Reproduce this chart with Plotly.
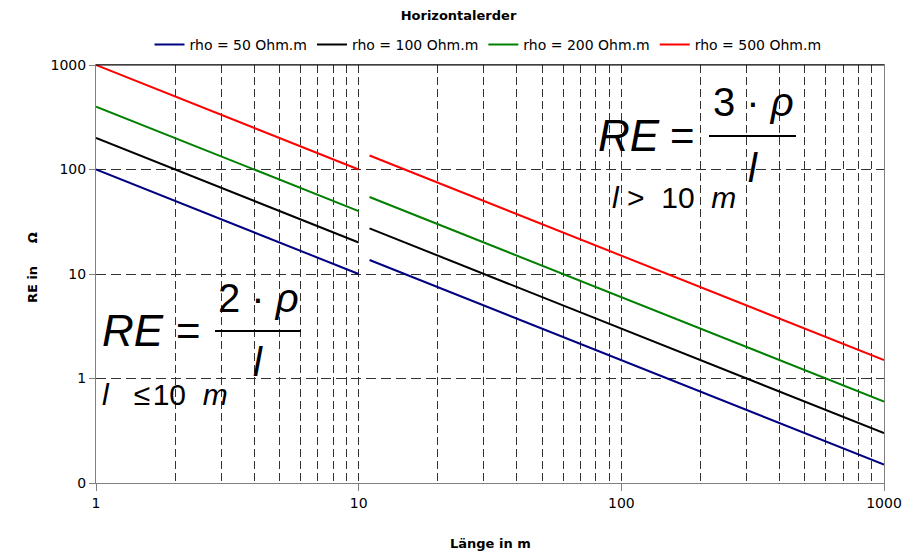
import plotly.graph_objects as go

# ---- data ----
lengths_short = [1, 2, 5, 10]
lengths_long = [11, 20, 50, 100, 200, 500, 1000]

series_names = ["rho = 50 Ohm.m", "rho = 100 Ohm.m", "rho = 200 Ohm.m", "rho = 500 Ohm.m"]
series_colors = ["#000080", "#000000", "#008000", "#FF0000"]

re_short_50 = [100, 50, 20, 10]
re_long_50 = [13.6, 7.5, 3, 1.5, 0.75, 0.3, 0.15]
re_short_100 = [200, 100, 40, 20]
re_long_100 = [27.3, 15, 6, 3, 1.5, 0.6, 0.3]
re_short_200 = [400, 200, 80, 40]
re_long_200 = [54.5, 30, 12, 6, 3, 1.2, 0.6]
re_short_500 = [1000, 500, 200, 100]
re_long_500 = [136, 75, 30, 15, 7.5, 3, 1.5]

short_vals = [re_short_50, re_short_100, re_short_200, re_short_500]
long_vals = [re_long_50, re_long_100, re_long_200, re_long_500]

y_tickvals = [0.1, 1, 10, 100, 1000]
y_ticktext = ["0", "1", "10", "100", "1000"]
x_tickvals = [1, 10, 100, 1000]
x_ticktext = ["1", "10", "100", "1000"]

# ---- layout geometry (pixels) ----
W, H = 917, 554
L, R, T, B = 96, 884, 65, 483
PW, PH = R - L, B - T


def px(x):
    return (x - L) / PW


def py(y):
    return (B - y) / PH


FONT = "DejaVu Sans, Verdana, sans-serif"
FFONT = "Liberation Sans, Arial, sans-serif"
GRID = "#333333"
NB = "\u00a0"
HS = "\u200a"

fig = go.Figure()
for name, col, ys, yl in zip(series_names, series_colors, short_vals, long_vals):
    fig.add_trace(go.Scatter(
        x=lengths_short + [None] + lengths_long,
        y=ys + [None] + yl,
        mode="lines", name=name,
        line=dict(color=col, width=2),
        connectgaps=False,
    ))

fig.update_layout(
    width=W, height=H,
    margin=dict(l=L, r=W - R, t=T, b=H - B),
    paper_bgcolor="white", plot_bgcolor="white",
    font=dict(family=FONT, size=14, color="black"),
    showlegend=True,
    legend=dict(orientation="h", x=px(488), xanchor="center", y=py(45), yanchor="middle",
                font=dict(size=14, family=FONT), itemwidth=30, tracegroupgap=0,
                bgcolor="rgba(0,0,0,0)"),
    title=dict(text="<b>Horizontalerder</b>", x=px(490), xanchor="center",
               y=1 - 15 / H, yanchor="middle", font=dict(size=13, family=FONT)),
)

fig.update_xaxes(
    type="log", range=[0, 3],
    tickvals=x_tickvals, ticktext=x_ticktext,
    ticks="outside", ticklen=7, tickcolor="#808080",
    showline=True, linecolor="#808080", linewidth=1, mirror=True,
    showgrid=True, gridcolor=GRID, griddash="8px,4px", gridwidth=1,
    minor=dict(dtick="D1", showgrid=True, gridcolor=GRID, griddash="8px,4px", gridwidth=1, ticks=""),
    zeroline=False, tickfont=dict(size=14, family=FONT),
)
fig.update_yaxes(
    type="log", range=[-1, 3],
    tickvals=y_tickvals, ticktext=y_ticktext,
    ticks="outside", ticklen=6, tickcolor="#808080",
    showline=True, linecolor="#808080", linewidth=1, mirror=True,
    showgrid=True, gridcolor=GRID, griddash="10px,5px", gridwidth=1,
    zeroline=False, tickfont=dict(size=14, family=FONT),
)

ann = []
# axis titles
ann.append(dict(text="<b>Länge in m</b>", xref="paper", yref="paper", x=px(490), y=py(543),
                xanchor="center", yanchor="middle", showarrow=False,
                font=dict(size=13, family=FONT)))
ann.append(dict(text="<b>RE in" + NB * 5 + "Ω</b>", xref="paper", yref="paper", x=px(32), y=py(268),
                xanchor="center", yanchor="middle", showarrow=False, textangle=-90,
                font=dict(size=13, family=FONT)))


def txt(s, x, y, size, anchor="left"):
    ann.append(dict(text=s, xref="paper", yref="paper", x=px(x), y=py(y),
                    xanchor=anchor, yanchor="middle", showarrow=False,
                    font=dict(size=size, family=FFONT, color="black")))


# left formula  RE = 2·ρ / l
txt("<i>RE</i>", 100, 330, 44)
txt("=", 174, 330, 42)
txt("2 · <i>ρ</i>", 258, 298, 40, "center")
txt("<i>l</i>", 258, 362, 40, "center")
txt("<i>l</i>" + NB * 3 + "≤" + HS + "10" + NB * 2 + "<i>m</i>", 100, 394, 30)
# right formula  RE = 3·ρ / l
txt("<i>RE</i>", 596, 135, 44)
txt("=", 668, 135, 42)
txt("3 · <i>ρ</i>", 753, 102, 40, "center")
txt("<i>l</i>", 753, 168, 40, "center")
txt("<i>l</i>" + NB + ">" + NB * 2 + "10" + NB * 2 + "<i>m</i>", 610, 197, 30)

fig.update_layout(annotations=ann)

shapes = [
    dict(type="line", xref="paper", yref="paper", x0=px(215), x1=px(301), y0=py(331), y1=py(331),
         line=dict(color="black", width=2)),
    dict(type="line", xref="paper", yref="paper", x0=px(709), x1=px(796), y0=py(136), y1=py(136),
         line=dict(color="black", width=2)),
    dict(type="line", xref="paper", yref="paper", x0=0, x1=1, y0=1, y1=1,
         line=dict(color="black", width=1)),
]
fig.update_layout(shapes=shapes)

fig.write_html("out.html", config={"displayModeBar": False},
               post_script="document.body.style.margin='0';")
